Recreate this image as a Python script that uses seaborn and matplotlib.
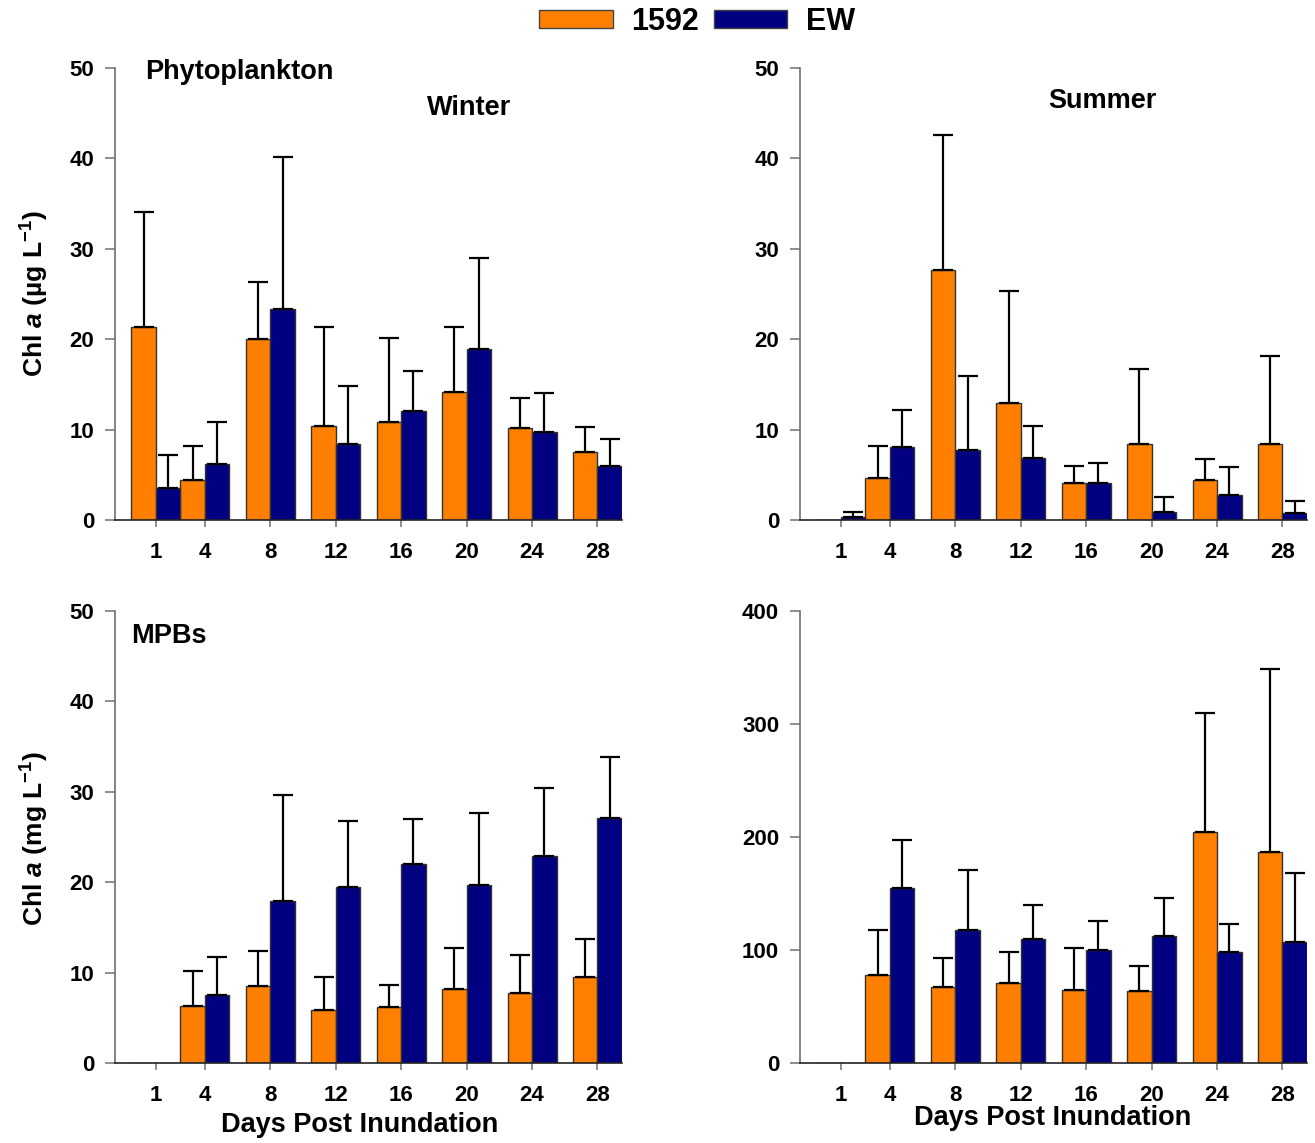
import numpy as np
import pandas as pd
import matplotlib
matplotlib.use("Agg")
import matplotlib.pyplot as plt
from matplotlib.patches import Patch
import seaborn as sns

days = [1, 4, 8, 12, 16, 20, 24, 28]
groups = ["1592", "EW"]
colors = {"1592": "#FF8000", "EW": "#000080"}

# Phytoplankton, Winter (ug/L): means and upper SD
pw_1592 = [21.3, 4.4, 20.0, 10.4, 10.8, 14.2, 10.2, 7.5]
pw_1592_sd = [12.8, 3.8, 6.3, 11.0, 9.3, 7.2, 3.3, 2.8]
pw_ew = [3.5, 6.2, 23.3, 8.4, 12.1, 18.9, 9.7, 6.0]
pw_ew_sd = [3.7, 4.6, 16.8, 6.4, 4.4, 10.1, 4.3, 3.0]

# Phytoplankton, Summer (ug/L)
ps_1592 = [0.0, 4.6, 27.6, 12.9, 4.1, 8.4, 4.4, 8.4]
ps_1592_sd = [0.0, 3.6, 15.0, 12.4, 1.9, 8.3, 2.3, 9.7]
ps_ew = [0.3, 8.1, 7.7, 6.9, 4.1, 0.9, 2.8, 0.8]
ps_ew_sd = [0.6, 4.1, 8.2, 3.5, 2.2, 1.6, 3.1, 1.3]

# MPBs, Winter (mg/L)
mw_1592 = [0.0, 6.3, 8.5, 5.9, 6.2, 8.2, 7.7, 9.5]
mw_1592_sd = [0.0, 3.9, 3.9, 3.6, 2.4, 4.5, 4.2, 4.2]
mw_ew = [0.0, 7.5, 17.9, 19.5, 22.0, 19.7, 22.9, 27.1]
mw_ew_sd = [0.0, 4.2, 11.7, 7.3, 5.0, 7.9, 7.5, 6.8]

# MPBs, Summer (mg/L)
ms_1592 = [0.0, 78, 67, 71, 65, 64, 204, 187]
ms_1592_sd = [0.0, 40, 26, 27, 37, 22, 106, 162]
ms_ew = [0.0, 155, 118, 110, 100, 112, 98, 107]
ms_ew_sd = [0.0, 42, 53, 30, 26, 34, 25, 61]

yticks_small = [0, 10, 20, 30, 40, 50]
yticks_large = [0, 100, 200, 300, 400]

sns.set_theme(style="ticks")
plt.rcParams["font.family"] = ["Liberation Sans", "DejaVu Sans"]
plt.rcParams["font.weight"] = "bold"
plt.rcParams["text.color"] = "black"
plt.rcParams["axes.labelcolor"] = "black"
plt.rcParams["xtick.labelcolor"] = "black"
plt.rcParams["ytick.labelcolor"] = "black"
plt.rcParams["mathtext.fontset"] = "custom"
plt.rcParams["mathtext.rm"] = "Liberation Sans:bold"
plt.rcParams["mathtext.it"] = "Liberation Sans:italic:bold"
plt.rcParams["mathtext.bf"] = "Liberation Sans:bold"

W, H = 1315, 1143
fig = plt.figure(figsize=(W / 100, H / 100), dpi=100)


def ax_rect(l, t, r, b):
    return [l / W, 1 - b / H, (r - l) / W, (b - t) / H]


panels = [
    (ax_rect(115, 68, 622, 520), pw_1592, pw_1592_sd, pw_ew, pw_ew_sd, yticks_small),
    (ax_rect(800, 68, 1307, 520), ps_1592, ps_1592_sd, ps_ew, ps_ew_sd, yticks_small),
    (ax_rect(115, 611, 622, 1063), mw_1592, mw_1592_sd, mw_ew, mw_ew_sd, yticks_small),
    (ax_rect(800, 611, 1307, 1063), ms_1592, ms_1592_sd, ms_ew, ms_ew_sd, yticks_large),
]

axes = []
for rect, a_m, a_sd, b_m, b_sd, yt in panels:
    ax = fig.add_axes(rect)
    df = pd.DataFrame({
        "day": days * 2,
        "group": ["1592"] * len(days) + ["EW"] * len(days),
        "value": list(a_m) + list(b_m),
        "sd": list(a_sd) + list(b_sd),
    })
    sns.barplot(data=df, x="day", y="value", hue="group", hue_order=groups,
                palette=colors, native_scale=True, width=1.0, errorbar=None,
                edgecolor="#333333", linewidth=1.0, saturation=1.0,
                legend=False, ax=ax)
    # error bars (upper only) placed at the bar centres drawn by seaborn
    for cont, g in zip(ax.containers, groups):
        sub = df[df["group"] == g].sort_values("day")
        patches = sorted(cont.patches, key=lambda p: p.get_x())
        xs, ys, es = [], [], []
        for p, (_, row) in zip(patches, sub.iterrows()):
            if row["value"] == 0 and row["sd"] == 0:
                continue
            xs.append(p.get_x() + p.get_width() / 2)
            ys.append(row["value"])
            es.append(row["sd"])
        ax.errorbar(xs, ys, yerr=[np.zeros(len(es)), es], fmt="none",
                    ecolor="black", elinewidth=1.6, capsize=7.5, capthick=1.6,
                    zorder=1)
    ax.set_xlim(-1.5, 29.5)
    ax.set_ylim(yt[0], yt[-1])
    ax.set_xticks(days)
    ax.set_xticklabels([str(d) for d in days])
    ax.set_yticks(yt)
    ax.set_yticklabels([str(v) for v in yt])
    ax.set_xlabel("")
    ax.set_ylabel("")
    sns.despine(ax=ax)
    ax.spines["left"].set_color("#707070")
    ax.spines["left"].set_linewidth(1.2)
    ax.spines["bottom"].set_color("#222222")
    ax.spines["bottom"].set_linewidth(1.2)
    ax.tick_params(axis="y", length=7, width=1.1, color="#707070", pad=8,
                   labelsize=16, labelcolor="black")
    ax.tick_params(axis="x", length=5, width=1.1, color="#707070", pad=11,
                   labelsize=16, labelcolor="black")
    for lab in ax.get_xticklabels() + ax.get_yticklabels():
        lab.set_fontweight("bold")
    axes.append(ax)

tfs = 19.5
axes[0].text(0.059, 0.991, "Phytoplankton", transform=axes[0].transAxes,
             ha="left", va="center", fontsize=tfs, fontweight="bold")
axes[0].text(0.698, 0.912, "Winter", transform=axes[0].transAxes,
             ha="center", va="center", fontsize=tfs, fontweight="bold")
axes[1].text(0.596, 0.927, "Summer", transform=axes[1].transAxes,
             ha="center", va="center", fontsize=tfs, fontweight="bold")
axes[2].text(0.032, 0.945, "MPBs", transform=axes[2].transAxes,
             ha="left", va="center", fontsize=tfs, fontweight="bold")

fig.text(35 / W, 1 - 294 / H, "Chl $a$ (µg L$^{-1}$)", rotation=90,
         ha="center", va="center", fontsize=19, fontweight="bold")
fig.text(35 / W, 1 - 838 / H, "Chl $a$ (mg L$^{-1}$)", rotation=90,
         ha="center", va="center", fontsize=19, fontweight="bold")
fig.text(360 / W, 1 - 1125 / H, "Days Post Inundation", ha="center",
         va="center", fontsize=19.5, fontweight="bold")
fig.text(1053 / W, 1 - 1118 / H, "Days Post Inundation", ha="center",
         va="center", fontsize=19.5, fontweight="bold")

handles = [Patch(facecolor=colors[g], edgecolor="#444444", linewidth=1.0)
           for g in groups]
leg = fig.legend(handles, groups, loc="center", bbox_to_anchor=(697 / W, 1 - 22 / H),
                 ncol=2, frameon=False, handlelength=2.4, handleheight=0.5,
                 handletextpad=0.6, columnspacing=0.5,
                 prop={"size": 22, "weight": "bold"})

fig.savefig("out.png", dpi=100)
